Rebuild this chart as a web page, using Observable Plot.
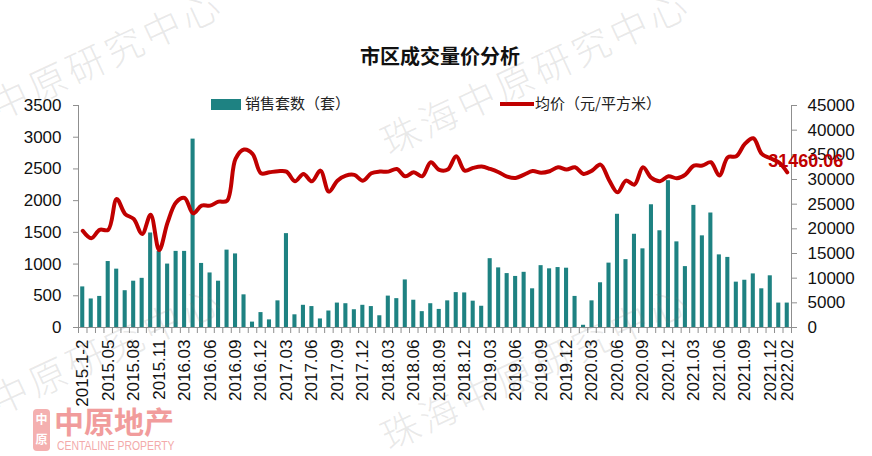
<!DOCTYPE html>
<html>
<head>
<meta charset="utf-8">
<script src="https://cdn.jsdelivr.net/npm/d3@7"></script>
<script src="https://cdn.jsdelivr.net/npm/@observablehq/plot@0.6"></script>
<style>
  body { margin: 0; background: #fff; }
  #wrap { position: relative; width: 872px; height: 456px; overflow: hidden; background: #fff; }
  #chart { position: absolute; left: 0; top: 0; }
  #title { position: absolute; left: 0; top: 44px; width: 880px; text-align: center;
           font-family: "Noto Sans CJK SC", sans-serif; font-weight: bold; font-size: 20px; line-height: 24px; color: #111; }
  .leg { position: absolute; font-family: "Noto Sans CJK SC", sans-serif; font-size: 15px; line-height: 18px; color: #222; }
  .wm { position: absolute; font-family: "Noto Sans CJK SC", sans-serif; font-weight: 300; font-size: 38px; letter-spacing: 4px;
        color: rgba(120,120,120,0.17); white-space: nowrap; transform-origin: 0 100%; transform: rotate(-25deg); line-height: 40px; pointer-events: none; }
  #logo { position: absolute; left: 33px; top: 405px; width: 160px; height: 48px; color: #f19c9c; font-family: "Noto Sans CJK SC", sans-serif; }
</style>
</head>
<body>
<div id="wrap">
  <div id="chart"></div>
  <div id="title">市区成交量价分析</div>
  <div class="leg" style="left:211px;top:99px;width:30px;height:11px;background:#1e8282;"></div>
  <div class="leg" style="left:245px;top:94px;">销售套数（套）</div>
  <div class="leg" style="left:500px;top:102px;width:34px;height:4px;background:#c00000;"></div>
  <div class="leg" style="left:535px;top:94px;">均价（元/平方米）</div>
  <div id="logo">
    <div style="position:absolute;left:0;top:4px;width:17px;height:42px;border-radius:4px;background:#f4b0b0;color:#fff;font-size:12px;line-height:20px;text-align:center;font-weight:bold;">中<br>原</div>
    <div style="position:absolute;left:21px;top:-3px;font-size:30px;font-weight:bold;line-height:36px;letter-spacing:0px;">中原地产</div>
    <div style="position:absolute;left:24px;top:34px;font-family:'Liberation Sans',Arial,sans-serif;font-size:13px;line-height:14px;white-space:nowrap;transform:scaleX(0.8);transform-origin:0 0;color:#f3aaaa;">CENTALINE PROPERTY</div>
  </div>
  <div class="wm" style="left:-76px;top:120px;">珠海中原研究中心</div>
  <div class="wm" style="left:391px;top:120px;">珠海中原研究中心</div>
  <div class="wm" style="left:-76px;top:415px;">珠海中原研究中心</div>
  <div class="wm" style="left:391px;top:415px;">珠海中原研究中心</div>
</div>
<script>
const months = [
  "2015.1-2","2015.03","2015.04","2015.05","2015.06","2015.07","2015.08","2015.09","2015.10","2015.11","2015.12",
  "2016.1-2","2016.03","2016.04","2016.05","2016.06","2016.07","2016.08","2016.09","2016.10","2016.11","2016.12",
  "2017.01","2017.02","2017.03","2017.04","2017.05","2017.06","2017.07","2017.08","2017.09","2017.10","2017.11","2017.12",
  "2018.01","2018.02","2018.03","2018.04","2018.05","2018.06","2018.07","2018.08","2018.09","2018.10","2018.11","2018.12",
  "2019.01","2019.02","2019.03","2019.04","2019.05","2019.06","2019.07","2019.08","2019.09","2019.10","2019.11","2019.12",
  "2020.01","2020.02","2020.03","2020.04","2020.05","2020.06","2020.07","2020.08","2020.09","2020.10","2020.11","2020.12",
  "2021.01","2021.02","2021.03","2021.04","2021.05","2021.06","2021.07","2021.08","2021.09","2021.10","2021.11","2021.12",
  "2022.01","2022.02"
];
const sales = [
  640, 450, 490, 1040, 920, 580, 730, 775, 1490, 1200, 1000,
  1200, 1200, 2970, 1010, 860, 730, 1220, 1160, 515, 85, 235,
  120, 420, 1480, 200, 350, 330, 135, 260, 385, 375, 280, 350,
  330, 185, 495, 455, 750, 430, 250, 375, 285, 420, 550, 545,
  415, 335, 1085, 940, 850, 805, 870, 610, 975, 925, 945, 935,
  490, 35, 420, 705, 1015, 1785, 1070, 1470, 1240, 1935, 1525, 2315,
  1350, 960, 1925, 1445, 1805, 1145, 1105, 715, 745, 845, 610, 815,
  385, 385
];
const price = [
  19600, 18100, 19800, 19800, 26050, 23000, 22000, 18950, 22870, 15700, 21300,
  25380, 26250, 23140, 24700, 24700, 25500, 25700, 34170, 36070, 35200, 31260,
  31470, 31670, 31600, 29640, 31130, 29640, 31800, 27540, 29770, 30790, 30930, 29770,
  31260, 31600, 31600, 32140, 30650, 31470, 30650, 33500, 31940, 32010, 34710, 31800,
  32350, 32620, 32140, 31470, 30590, 30320, 31000, 31700, 31350, 31670, 32480, 32010,
  32480, 31130, 31800, 33020, 29910, 27400, 29770, 28960, 32480, 30320, 29640, 30650,
  30250, 31000, 32820, 32820, 33500, 30790, 34510, 34710, 37220, 38370, 35190, 34310,
  33500, 31460.06
];
const leftTicks = [0, 500, 1000, 1500, 2000, 2500, 3000, 3500];
const rightTicks = [0, 5000, 10000, 15000, 20000, 25000, 30000, 35000, 40000, 45000];
const lastLabel = "31460.06";

const teal = "#1e8282";
const red = "#c00000";
const axisGray = "#8f8f8f";
const k = 3500 / 45000;
const W = 872, H = 456, mL = 78, mR = 81, mT = 105, mB = 129;
const step = (W - mL - mR) / months.length;

const data = months.map((m, i) => ({m, sales: sales[i], price: price[i]}));
const labelTicks = months.filter((m, i) => i % 3 === 0 || i === months.length - 1);
const last = data[data.length - 1];

const chart = Plot.plot({
  width: W, height: H,
  marginTop: mT, marginBottom: mB, marginLeft: mL, marginRight: mR,
  style: {fontFamily: "'Liberation Sans', Arial, sans-serif", fontSize: "17px", color: "#111", background: "transparent", overflow: "visible"},
  x: {domain: months, paddingInner: 0.52, paddingOuter: 0.26, axis: null, label: null},
  y: {domain: [0, 3500], axis: null, label: null},
  marks: [
    Plot.barY(data, {x: "m", y: "sales", fill: teal}),
    Plot.lineY(data, {x: "m", y: d => d.price * k, stroke: red, strokeWidth: 4, curve: "catmull-rom", strokeLinejoin: "round", strokeLinecap: "round"}),
    Plot.frame({anchor: "left", stroke: axisGray}),
    Plot.frame({anchor: "right", stroke: axisGray}),
    Plot.frame({anchor: "bottom", stroke: axisGray}),
    Plot.axisY(leftTicks, {anchor: "left", label: null, tickSize: 5, tickPadding: 12, stroke: axisGray, tickFormat: d => String(d), fill: "#111"}),
    Plot.axisY(rightTicks.map(v => v * k), {anchor: "right", label: null, tickSize: 5, tickPadding: 11, stroke: axisGray, tickFormat: d => String(Math.round(d / k)), fill: "#111"}),
    Plot.axisX(months, {anchor: "bottom", label: null, tickSize: 6, tickFormat: () => "", dx: -step / 2, stroke: axisGray}),
    Plot.axisX([months[months.length - 1]], {anchor: "bottom", label: null, tickSize: 6, tickFormat: () => "", dx: step / 2, stroke: axisGray}),
    Plot.axisX(labelTicks, {anchor: "bottom", label: null, tickSize: 0, tickPadding: 12, tickRotate: -90, fill: "#111"}),
    Plot.text([last], {x: "m", y: d => d.price * k, text: () => lastLabel, textAnchor: "start", dx: -19, dy: -11, fill: red, fontWeight: "bold", fontSize: 18})
  ]
});
document.getElementById("chart").appendChild(chart);
</script>
</body>
</html>
